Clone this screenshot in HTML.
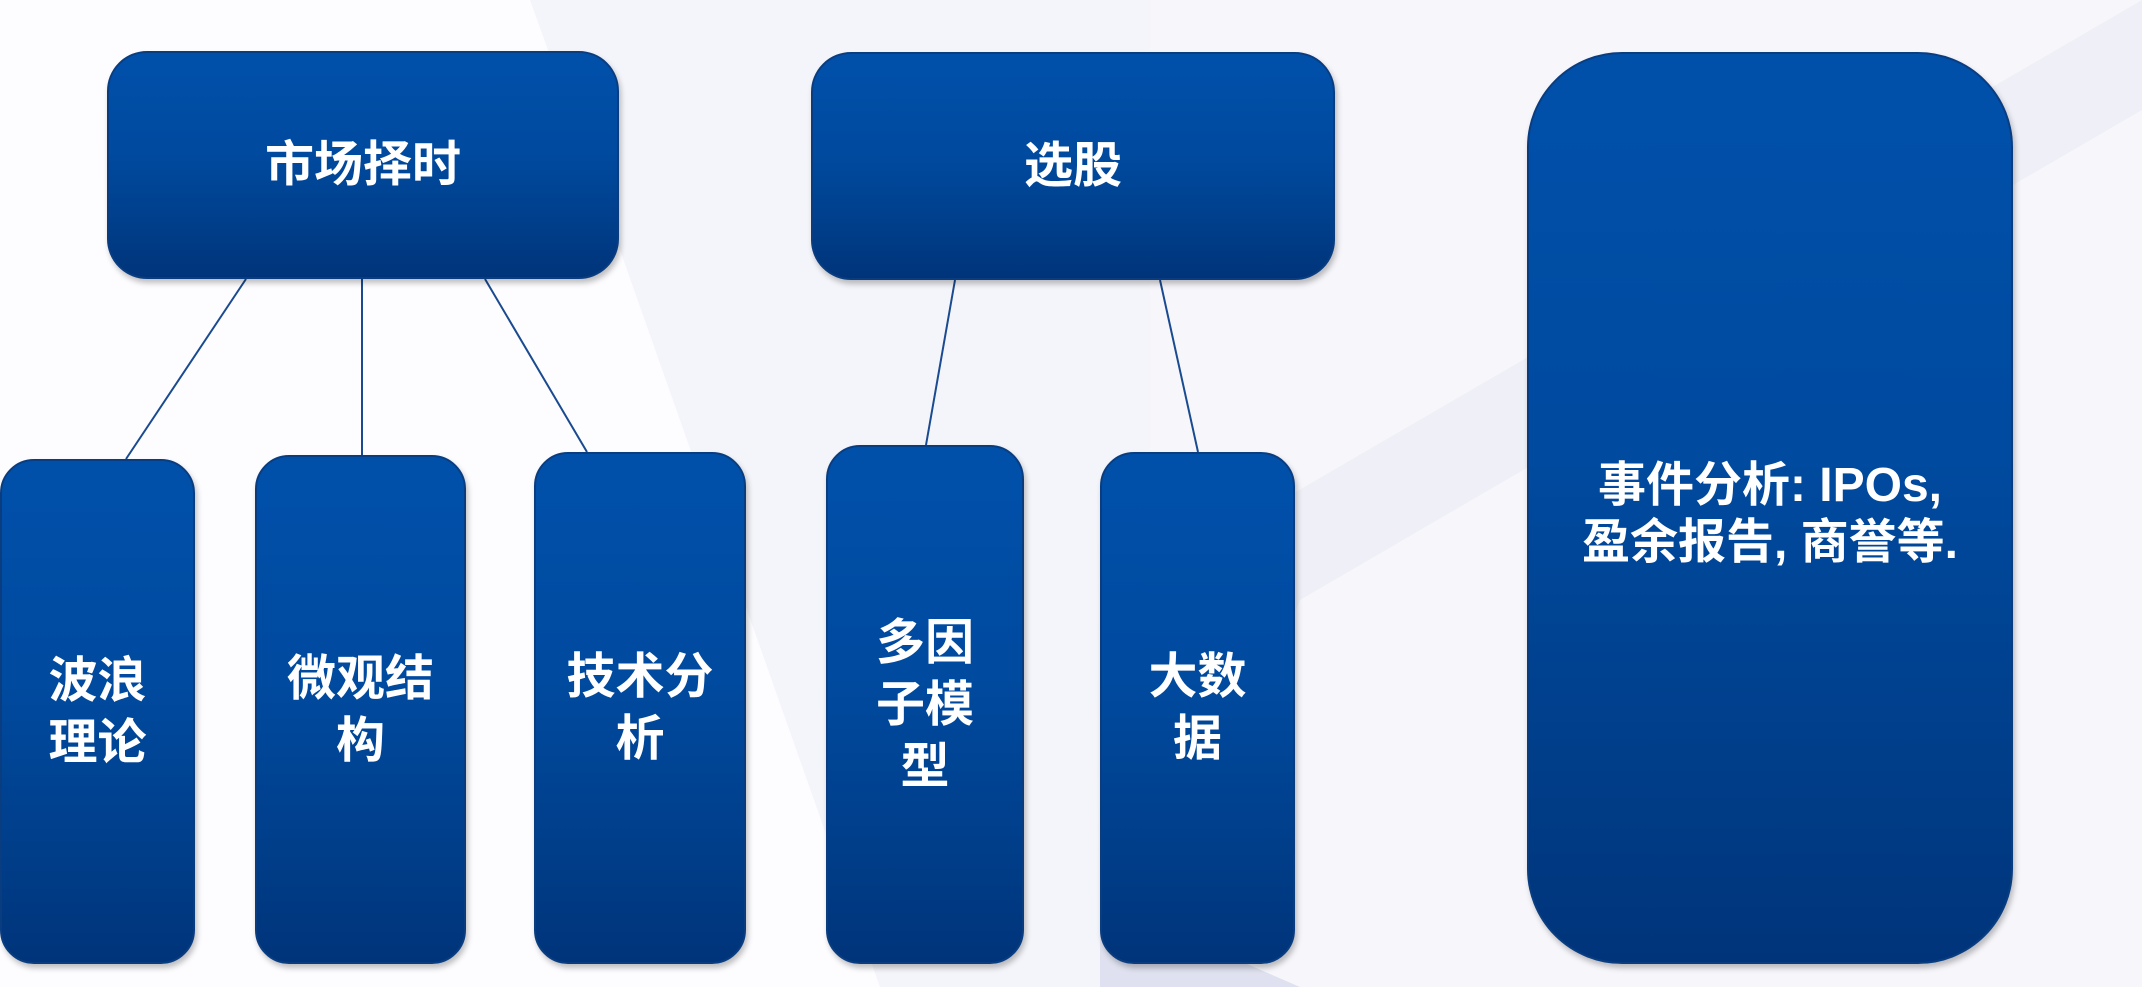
<!DOCTYPE html>
<html><head><meta charset="utf-8"><style>
html,body{margin:0;padding:0}
body{width:2142px;height:987px;position:relative;overflow:hidden;background:#fdfdff;font-family:"Liberation Sans","Noto Sans CJK SC",sans-serif}
.b{position:absolute;box-sizing:border-box;background:linear-gradient(#0050aa 0%,#004a9f 45%,#003d88 80%,#00347a 100%);border:2px solid #0a3d80;border-radius:36px;color:#fff;font-weight:bold;font-size:49px;line-height:62px;display:flex;align-items:center;justify-content:center;text-align:center;box-shadow:2px 4px 6px rgba(0,0,0,.25)}
svg{position:absolute;left:0;top:0}
</style></head><body>
<svg width="2142" height="987">
<polygon points="530,0 1150,0 1150,987 880,987 620,250" fill="#f4f5fa"/>
<polygon points="1150,0 2142,0 2142,987 1150,987" fill="#f6f6fb"/>
<polygon points="1110,600 2142,0 2142,110 1300,600 1150,987 1110,987" fill="#eff0f7"/>
<polygon points="1100,900 1300,987 1100,987" fill="#dfe1f0"/>
<g stroke="#1a4a90" stroke-width="2">
<line x1="246" y1="279" x2="126" y2="459"/>
<line x1="362" y1="279" x2="362" y2="455"/>
<line x1="485" y1="279" x2="587" y2="452"/>
<line x1="955" y1="280" x2="926" y2="445"/>
<line x1="1160" y1="280" x2="1198" y2="452"/>
</g>
</svg>
<div class="b" style="left:107px;top:51px;width:512px;height:228px;border-radius:40px">市场择时</div>
<div class="b" style="left:811px;top:52px;width:524px;height:228px;border-radius:40px">选股</div>
<div class="b" style="left:1527px;top:52px;width:486px;height:912px;border-radius:95px;font-size:48px;line-height:57px;padding-top:12px">事件分析: IPOs,<br>盈余报告, 商誉等.</div>
<div class="b" style="left:0;top:459px;width:195px;height:505px;border-radius:34px">波浪<br>理论</div>
<div class="b" style="left:255px;top:455px;width:211px;height:509px;border-radius:34px">微观结<br>构</div>
<div class="b" style="left:534px;top:452px;width:212px;height:512px;border-radius:34px">技术分<br>析</div>
<div class="b" style="left:826px;top:445px;width:198px;height:519px;border-radius:34px">多因<br>子模<br>型</div>
<div class="b" style="left:1100px;top:452px;width:195px;height:512px;border-radius:34px">大数<br>据</div>
</body></html>
